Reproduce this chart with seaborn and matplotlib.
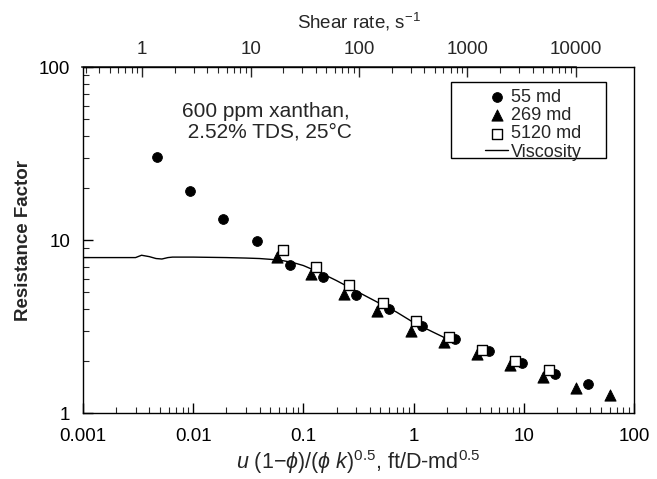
import numpy as np
import pandas as pd
import matplotlib
matplotlib.use("Agg")
import matplotlib.pyplot as plt
import matplotlib.ticker as mticker
from matplotlib.patches import Rectangle
import seaborn as sns

# data
x_55 = [0.0047, 0.0094, 0.0188, 0.0376, 0.075, 0.15, 0.30, 0.60, 1.2, 2.4, 4.8, 9.6, 19.3, 38.5]
y_55 = [30.2, 19.4, 13.2, 9.9, 7.25, 6.1, 4.85, 4.0, 3.2, 2.7, 2.3, 1.95, 1.7, 1.48]

x_269 = [0.058, 0.117, 0.235, 0.47, 0.94, 1.89, 3.8, 7.5, 15.0, 30.0, 60.0]
y_269 = [8.0, 6.4, 4.9, 3.9, 3.0, 2.6, 2.2, 1.9, 1.62, 1.4, 1.28]

x_5120 = [0.0656, 0.131, 0.262, 0.525, 1.05, 2.1, 4.2, 8.4, 16.8]
y_5120 = [8.8, 7.0, 5.5, 4.35, 3.4, 2.77, 2.33, 2.0, 1.78]

x_visc = [0.001, 0.002, 0.003, 0.0034, 0.004, 0.0046, 0.0052, 0.0059, 0.0065, 0.008, 0.01,
          0.02, 0.03, 0.04, 0.06, 0.08, 0.1, 0.15, 0.2, 0.3, 0.5, 0.7, 1.0, 1.5, 2.0, 2.45]
y_visc = [7.95, 7.95, 7.95, 8.2, 8.05, 7.85, 7.8, 7.95, 8.0, 8.0, 8.0,
          7.95, 7.9, 7.85, 7.7, 7.45, 7.15, 6.4, 5.85, 5.1, 4.3, 3.85, 3.35, 2.95, 2.7, 2.55]

# top axis: log10(shear) = a*log10(x) + b (as drawn in the original)
shear_a = 1.017
shear_b = 2.504
shear_ticks = [1, 10, 100, 1000, 10000]
shear_labels = ["1", "10", "100", "1000", "10000"]


def to_shear(v):
    v = np.clip(np.asarray(v, dtype=float), 1e-12, None)
    return 10 ** (shear_a * np.log10(v) + shear_b)


def from_shear(s):
    s = np.clip(np.asarray(s, dtype=float), 1e-12, None)
    return 10 ** ((np.log10(s) - shear_b) / shear_a)


sns.set_style("ticks")
plt.rcParams["font.family"] = ["Liberation Sans", "DejaVu Sans"]
plt.rcParams["mathtext.fontset"] = "custom"
plt.rcParams["mathtext.rm"] = "Liberation Sans"
plt.rcParams["mathtext.it"] = "Liberation Sans:italic"
plt.rcParams["mathtext.bf"] = "Liberation Sans:bold"

fig = plt.figure(figsize=(6.57, 4.79), dpi=100)
ax = fig.add_axes([0.1263, 0.137, 0.8387, 0.7225])

sns.lineplot(x=x_visc, y=y_visc, ax=ax, color="black", lw=1.0, label="Viscosity",
             estimator=None, sort=False, zorder=2)
sns.scatterplot(x=x_55, y=y_55, ax=ax, marker="o", s=50, color="black",
                edgecolor="black", label="55 md", zorder=3)
sns.scatterplot(x=x_269, y=y_269, ax=ax, marker="^", s=65, color="black",
                edgecolor="black", label="269 md", zorder=3)
sns.scatterplot(x=x_5120, y=y_5120, ax=ax, marker="s", s=45, facecolor="white",
                edgecolor="black", linewidth=1.0, label="5120 md", zorder=4)

ax.set_xscale("log")
ax.set_yscale("log")
ax.set_xlim(0.001, 100)
ax.set_ylim(1, 100)

ax.xaxis.set_major_formatter(mticker.FuncFormatter(lambda v, p: f"{v:g}"))
ax.yaxis.set_major_formatter(mticker.FuncFormatter(lambda v, p: f"{v:g}"))
ax.xaxis.set_minor_locator(mticker.LogLocator(base=10, subs=np.arange(2, 10)))
ax.yaxis.set_minor_locator(mticker.LogLocator(base=10, subs=np.arange(2, 10)))
ax.xaxis.set_minor_formatter(mticker.NullFormatter())
ax.yaxis.set_minor_formatter(mticker.NullFormatter())

ax.tick_params(axis="both", which="major", direction="in", length=7, width=1,
               labelsize=13.5, colors="black")
ax.tick_params(axis="both", which="minor", direction="in", length=4, width=0.8)
ax.tick_params(axis="x", which="both", pad=10.5)
ax.tick_params(axis="y", which="both", pad=9)
for sp in ax.spines.values():
    sp.set_visible(True)
    sp.set_linewidth(1.0)
    sp.set_color("black")

ax.set_xlabel(r"$u$ (1$-\phi$)/($\phi\ k$)$^{0.5}$, ft/D-md$^{0.5}$", fontsize=15.5, labelpad=2)
ax.set_ylabel("Resistance Factor", fontsize=13.5, fontweight="bold", labelpad=5)

sec = ax.secondary_xaxis("top", functions=(to_shear, from_shear))
sec.set_xticks(shear_ticks)
sec.set_xticklabels(shear_labels)
minor_sh = [m * 10.0 ** e for e in range(-1, 4) for m in range(2, 10) if 0.3 <= m * 10.0 ** e <= 9000]
sec.xaxis.set_minor_locator(mticker.FixedLocator(minor_sh))
sec.xaxis.set_minor_formatter(mticker.NullFormatter())
sec.tick_params(axis="x", which="major", direction="in", length=7, width=1, labelsize=13.5, pad=7)
sec.tick_params(axis="x", which="minor", direction="in", length=4, width=0.8)
sec.spines["top"].set_bounds(0.28, 10000)
sec.spines["top"].set_linewidth(1.2)
sec.set_xlabel(r"Shear rate, s$^{-1}$", fontsize=13.5, labelpad=9)

ax.text(0.0079, 48.5, "600 ppm xanthan,\n 2.52% TDS, 25°C", fontsize=15,
        ha="left", va="center", linespacing=1.05)

# legend box
ax.add_patch(Rectangle((0.668, 0.738), 0.2813, 0.2195, transform=ax.transAxes,
                       facecolor="white", edgecolor="black", lw=1.0, zorder=5))
h, l = ax.get_legend_handles_labels()
order = [l.index(n) for n in ["55 md", "269 md", "5120 md", "Viscosity"]]
leg = ax.legend([h[i] for i in order], [l[i] for i in order], loc="upper left",
                bbox_to_anchor=(0.7296, 0.938), frameon=False,
                fontsize=13, handlelength=1.3, handletextpad=0.15,
                labelspacing=0.07, borderpad=0, borderaxespad=0)
leg.set_zorder(6)

fig.savefig("out.png", dpi=100)
